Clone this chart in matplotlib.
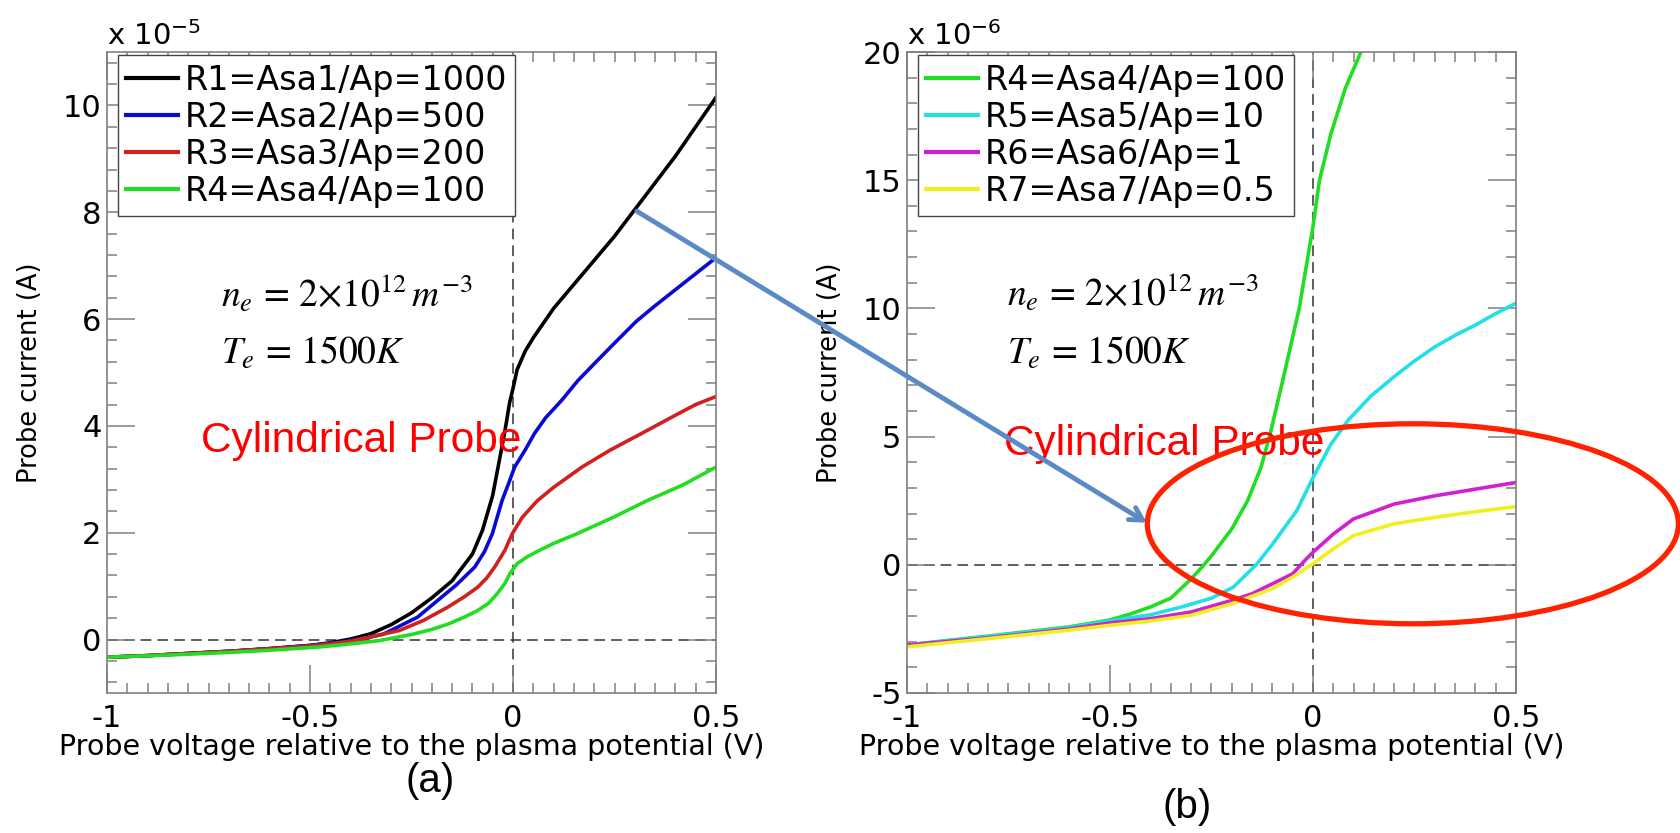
import numpy as np
import matplotlib
matplotlib.use("Agg")
import matplotlib.pyplot as plt
from matplotlib.patches import Ellipse
from matplotlib.ticker import MultipleLocator, FuncFormatter

# ---- panel (a) data, current in units of 1e-5 A ----
r1_v = [-1, -0.9, -0.8, -0.7, -0.6, -0.5, -0.45, -0.4, -0.35, -0.3, -0.25, -0.2, -0.15, -0.1,
        -0.075, -0.05, -0.035, -0.02, -0.008, 0, 0.01, 0.03, 0.05, 0.1, 0.15, 0.2, 0.25, 0.3,
        0.35, 0.4, 0.45, 0.5]
r1_i = [-0.33, -0.30, -0.26, -0.22, -0.17, -0.11, -0.06, 0.01, 0.11, 0.28, 0.5, 0.78, 1.1, 1.6,
        2.05, 2.7, 3.3, 3.9, 4.45, 4.7, 5.05, 5.4, 5.65, 6.2, 6.65, 7.1, 7.55, 8.05,
        8.55, 9.05, 9.6, 10.15]

r2_v = [-1, -0.9, -0.8, -0.7, -0.6, -0.5, -0.45, -0.4, -0.35, -0.32, -0.28, -0.235, -0.186, -0.14,
        -0.094, -0.07, -0.051, -0.027, -0.008, 0.004, 0.03, 0.053, 0.08, 0.12, 0.16, 0.206, 0.25,
        0.304, 0.35, 0.4, 0.45, 0.5]
r2_i = [-0.33, -0.30, -0.26, -0.22, -0.17, -0.11, -0.07, -0.02, 0.05, 0.1, 0.25, 0.42, 0.73, 1.02,
        1.36, 1.65, 1.98, 2.6, 2.98, 3.23, 3.55, 3.86, 4.15, 4.48, 4.85, 5.21, 5.55,
        5.96, 6.25, 6.55, 6.85, 7.15]

r3_v = [-1, -0.9, -0.8, -0.7, -0.6, -0.5, -0.45, -0.4, -0.357, -0.28, -0.22, -0.16, -0.12, -0.087,
        -0.065, -0.045, -0.02, -0.002, 0.023, 0.06, 0.1, 0.17, 0.24, 0.317, 0.4, 0.45, 0.5]
r3_i = [-0.33, -0.30, -0.26, -0.22, -0.17, -0.12, -0.08, -0.03, 0.04, 0.17, 0.36, 0.61, 0.8, 0.98,
        1.15, 1.36, 1.67, 1.98, 2.29, 2.6, 2.85, 3.23, 3.55, 3.86, 4.2, 4.4, 4.55]

r4a_v = [-1, -0.85, -0.7, -0.6, -0.48, -0.4, -0.33, -0.247, -0.2, -0.16, -0.12, -0.088, -0.06,
         -0.039, -0.02, -0.008, 0.01, 0.035, 0.065, 0.1, 0.157, 0.25, 0.33, 0.42, 0.5]
r4a_i = [-0.33, -0.29, -0.24, -0.2, -0.14, -0.08, -0.02, 0.1, 0.19, 0.29, 0.42, 0.54, 0.68,
         0.86, 1.05, 1.23, 1.42, 1.55, 1.67, 1.8, 1.98, 2.3, 2.6, 2.9, 3.23]

# ---- panel (b) data, current in units of 1e-6 A ----
r4b_v = [-1, -0.9, -0.8, -0.7, -0.6, -0.5, -0.45, -0.4, -0.35, -0.3, -0.274, -0.25, -0.2,
         -0.161, -0.128, -0.104, -0.07, -0.034, 0, 0.016, 0.044, 0.08, 0.118, 0.13]
r4b_i = [-3.13, -2.95, -2.78, -2.6, -2.42, -2.15, -1.92, -1.64, -1.3, -0.55, -0.1, 0.35, 1.4,
         2.5, 3.8, 5.2, 7.5, 10.0, 13.2, 15.0, 16.8, 18.6, 20.0, 20.5]

r5_v = [-1, -0.8, -0.6, -0.465, -0.4, -0.323, -0.25, -0.196, -0.14, -0.1, -0.04, 0, 0.044, 0.087,
        0.144, 0.2, 0.25, 0.3, 0.35, 0.4, 0.45, 0.5]
r5_i = [-3.13, -2.8, -2.45, -2.1, -1.95, -1.64, -1.3, -0.87, 0.0, 0.8, 2.11, 3.4, 4.7, 5.65,
        6.6, 7.34, 7.95, 8.5, 8.95, 9.35, 9.8, 10.2]

r6_v = [-1, -0.8, -0.6, -0.5, -0.4, -0.3, -0.2, -0.15, -0.1, -0.05, -0.02, 0, 0.05, 0.1, 0.2,
        0.3, 0.4, 0.5]
r6_i = [-3.13, -2.85, -2.5, -2.27, -2.1, -1.84, -1.39, -1.13, -0.74, -0.35, 0.17, 0.49, 1.2, 1.79,
        2.37, 2.69, 2.95, 3.21]

r7_v = [-1, -0.8, -0.6, -0.5, -0.4, -0.3, -0.2, -0.1, -0.05, 0, 0.05, 0.1, 0.2, 0.3, 0.4, 0.5]
r7_i = [-3.2, -2.88, -2.55, -2.36, -2.19, -1.97, -1.52, -0.93, -0.48, 0.04, 0.62, 1.14, 1.6, 1.85,
        2.07, 2.27]

labels_a = ["R1=Asa1/Ap=1000", "R2=Asa2/Ap=500", "R3=Asa3/Ap=200", "R4=Asa4/Ap=100"]
labels_b = ["R4=Asa4/Ap=100", "R5=Asa5/Ap=10", "R6=Asa6/Ap=1", "R7=Asa7/Ap=0.5"]
colors_a = ["#000000", "#0a0ad2", "#d02020", "#22dd22"]
colors_b = ["#22dd22", "#22e0e6", "#d020d0", "#f0f020"]

xlabel = "Probe voltage relative to the plasma potential (V)"
ylabel = "Probe current (A)"

plt.rcParams["font.family"] = ["DejaVu Sans"]
plt.rcParams["axes.unicode_minus"] = False

W, H = 1680, 833
fig = plt.figure(figsize=(W / 100, H / 100), dpi=100)
ax1 = fig.add_axes([107 / W, 1 - 693 / H, 609 / W, 641 / H])
ax2 = fig.add_axes([907 / W, 1 - 693 / H, 609 / W, 641 / H])

fmt = FuncFormatter(lambda val, pos: "%g" % round(val, 6))


def style_axes(ax, ymin, ymax, ymajor, yminor, exponent):
    ax.set_xlim(-1, 0.5)
    ax.set_ylim(ymin, ymax)
    ax.xaxis.set_major_locator(MultipleLocator(0.5))
    ax.xaxis.set_minor_locator(MultipleLocator(0.05))
    ax.yaxis.set_major_locator(MultipleLocator(ymajor))
    ax.yaxis.set_minor_locator(MultipleLocator(yminor))
    ax.xaxis.set_major_formatter(fmt)
    ax.yaxis.set_major_formatter(fmt)
    ax.tick_params(which="both", direction="in", top=True, right=True, color="#808080", width=1.1)
    ax.tick_params(which="major", length=20, labelsize=22)
    ax.tick_params(which="minor", length=7)
    ax.tick_params(axis="x", pad=8)
    ax.tick_params(axis="y", pad=4)
    for s in ax.spines.values():
        s.set_color("#808080")
        s.set_linewidth(1.2)
    ax.axhline(0, color="#333333", lw=1.1, ls=(0, (7, 4)), zorder=1)
    ax.axvline(0, color="#333333", lw=1.1, ls=(0, (7, 4)), zorder=1)
    ax.set_xlabel(xlabel, fontsize=20.5)
    ax.xaxis.set_label_coords(0.5, -0.062)
    ax.set_ylabel(ylabel, fontsize=18.5)
    ax.yaxis.set_label_coords(-0.105, 0.5)
    ax.text(0, 1.011, r"x 10$^{%d}$" % exponent, transform=ax.transAxes, ha="left",
            va="baseline", fontsize=21, math_fontfamily="dejavusans")


style_axes(ax1, -1, 11, 2, 0.4, -5)
style_axes(ax2, -5, 20, 5, 1, -6)

for v, i, c, lab in zip([r1_v, r2_v, r3_v, r4a_v], [r1_i, r2_i, r3_i, r4a_i], colors_a, labels_a):
    ax1.plot(v, i, color=c, lw=2.6, label=lab)
for v, i, c, lab in zip([r4b_v, r5_v, r6_v, r7_v], [r4b_i, r5_i, r6_i, r7_i], colors_b, labels_b):
    ax2.plot(v, i, color=c, lw=2.6, label=lab)

for ax in (ax1, ax2):
    leg = ax.legend(loc="upper left", bbox_to_anchor=(0.018, 0.995), borderaxespad=0,
                    fontsize=24, handlelength=1.55, handletextpad=0.2, labelspacing=0.12,
                    borderpad=0.25, fancybox=False, framealpha=1, edgecolor="#444444")
    leg.get_frame().set_linewidth(1.0)
    for line in leg.get_lines():
        line.set_linewidth(3)

# plasma parameters
ax1.text(-0.719, 6.47, r"$n_e\, =\, 2{\times}10^{12}\,m^{-3}$", fontsize=27, va="center",
         math_fontfamily="stix")
ax1.text(-0.719, 5.35, r"$T_e\, =\, 1500K$", fontsize=27, va="center", math_fontfamily="stix")
ax2.text(-0.754, 10.59, r"$n_e\, =\, 2{\times}10^{12}\,m^{-3}$", fontsize=27, va="center",
         math_fontfamily="stix")
ax2.text(-0.754, 8.24, r"$T_e\, =\, 1500K$", fontsize=27, va="center", math_fontfamily="stix")

ax1.text(-0.768, 3.72, "Cylindrical Probe", color="#ff0000", fontsize=30.5, va="center",
         family="Liberation Sans")
ax2.text(-0.761, 4.73, "Cylindrical Probe", color="#ff0000", fontsize=30.5, va="center",
         family="Liberation Sans")

# overlay: arrow and ellipse
ax2.annotate("", xy=(-0.409, 1.64), xycoords="data", xytext=(0.305, 8.02),
             textcoords=ax1.transData,
             arrowprops=dict(arrowstyle="->,head_length=0.9,head_width=0.5", color="#5b8bc5",
                             lw=3.5, shrinkA=0, shrinkB=0))
ax2.add_patch(Ellipse((0.246, 1.6), 1.308, 7.8, fill=False, edgecolor="#ff2200", lw=3.8,
                      clip_on=False, zorder=5))

fig.text(430 / W, 1 - 781 / H, "(a)", ha="center", va="center", fontsize=29,
         family="Liberation Sans")
fig.text(1187 / W, 1 - 807 / H, "(b)", ha="center", va="center", fontsize=29,
         family="Liberation Sans")

fig.savefig("out.png", dpi=100)
